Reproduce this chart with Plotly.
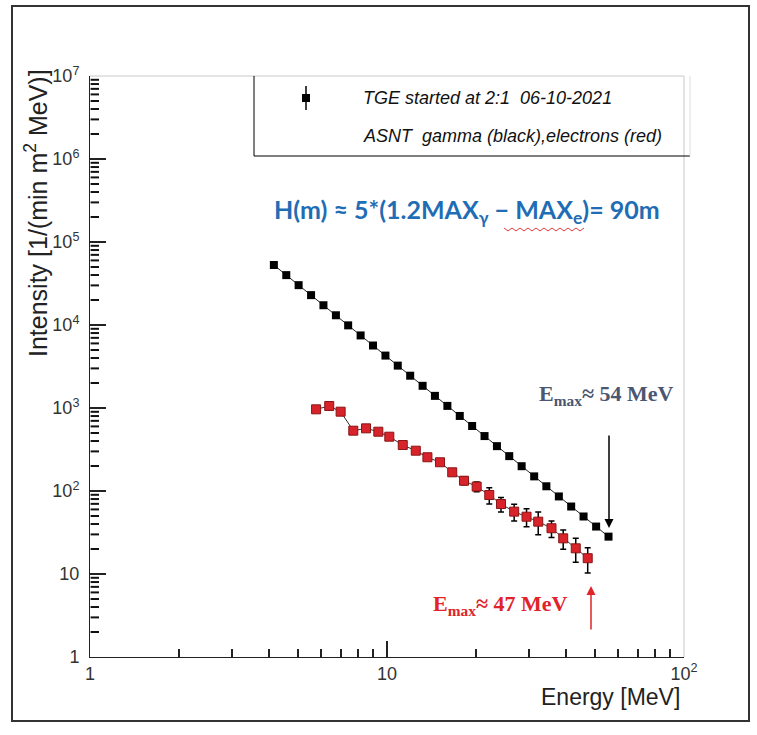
import math
import plotly.graph_objects as go

# ---- data ----
gamma_E = [4.16, 4.58, 5.04, 5.55, 6.11, 6.73, 7.40, 8.15, 8.97, 9.88, 10.87, 11.97,
           13.18, 14.5, 15.97, 17.58, 19.35, 21.3, 23.45, 25.8, 28.4, 31.3, 34.4, 37.9,
           41.7, 45.9, 50.6, 55.7]
gamma_I = [52800, 39900, 30200, 22900, 17300, 13100, 9900, 7490, 5660, 4280, 3240,
           2450, 1850, 1400, 1060, 802, 607, 459, 347, 263, 199, 150, 114, 86,
           65, 49.3, 37.3, 28.2]
gamma_err = [800, 650, 500, 400, 320, 260, 200, 160, 130, 100, 80, 65, 52, 42, 34,
             28, 22, 17, 14, 11, 9, 7, 6, 4.5, 3.5, 3, 2.5, 2.2]

elec_E = [5.77, 6.39, 6.98, 7.70, 8.50, 9.35, 10.18, 11.30, 12.50, 13.68, 15.08, 16.58,
          18.17, 20.04, 22.1, 24.2, 26.8, 29.5, 32.3, 35.8, 39.2, 43.2, 47.4]
elec_I = [964, 1057, 903, 533, 569, 518, 451, 358, 306, 255, 222, 168, 133, 113, 89.5,
          69.7, 56.4, 49.0, 42.7, 35.6, 26.9, 20.4, 15.5]
elec_err = [18, 20, 18, 14, 15, 14, 13, 12, 13, 13, 17, 14, 14, 15, 20, 14, 13, 12,
            13, 8, 7, 6.5, 5.2]

y_ticks = [1, 10, 100, 1e3, 1e4, 1e5, 1e6, 1e7]
y_ticktext = ["1", "10", "10<sup>2</sup>", "10<sup>3</sup>", "10<sup>4</sup>",
              "10<sup>5</sup>", "10<sup>6</sup>", "10<sup>7</sup>"]
x_ticks = [1, 10, 100]
x_ticktext = ["1", "10", "10<sup>2</sup>"]
minor_mult = [2, 3, 4, 5, 6, 7, 8, 9]

# ---- geometry ----
W, H = 757, 735
L, R, T, B = 90, 684, 76, 657
Y_DECADES = 7


def px(xp):
    return (xp - L) / (R - L)


def py(yp):
    return (B - yp) / (B - T)


x_minor = [m * d for d in (1, 10) for m in minor_mult]
y_minor = [m * 10 ** k for k in range(7) for m in minor_mult]

fig = go.Figure()

fig.add_trace(go.Scatter(
    x=gamma_E, y=gamma_I, mode="lines+markers",
    line=dict(color="#222222", width=1),
    marker=dict(symbol="square", size=8, color="black"),
    error_y=dict(type="data", array=gamma_err, color="black", thickness=1, width=2),
    showlegend=False))

fig.add_trace(go.Scatter(
    x=elec_E, y=elec_I, mode="lines+markers",
    line=dict(color="#333333", width=1),
    marker=dict(symbol="square", size=9, color="#d9232b",
                line=dict(color="#8a1515", width=1)),
    error_y=dict(type="data", array=elec_err, color="black", thickness=1.5, width=3),
    showlegend=False))

# empty trace so that the minor-tick x axis gets drawn
fig.add_trace(go.Scatter(x=[], y=[], xaxis="x2", yaxis="y", showlegend=False,
                         hoverinfo="skip"))

font_axis = "Liberation Sans, Arial, sans-serif"

fig.update_layout(
    xaxis=dict(type="log", range=[0, 2], tickmode="array", tickvals=x_ticks,
               ticktext=x_ticktext, showgrid=False, zeroline=False, showline=True,
               linecolor="#222222", linewidth=1, ticks="inside", ticklen=16,
               tickwidth=1.5, tickcolor="#222222",
               tickfont=dict(family=font_axis, size=18, color="#333333")),
    yaxis=dict(type="log", range=[0, Y_DECADES], tickmode="array", tickvals=y_ticks,
               ticktext=y_ticktext, showgrid=False, zeroline=False, showline=True,
               linecolor="#222222", linewidth=1, ticks="inside", ticklen=16,
               tickwidth=2, tickcolor="#222222", ticklabelstandoff=6,
               tickfont=dict(family=font_axis, size=18, color="#333333")),
    # secondary x axis only used to draw the minor ticks
    xaxis2=dict(type="log", range=[0, 2], overlaying="x", side="bottom", anchor="y",
                tickmode="array", tickvals=x_minor, showticklabels=False,
                showgrid=False, zeroline=False, showline=False, ticks="inside",
                ticklen=8, tickwidth=1.5, tickcolor="#222222"),
)

shapes = []
# y minor ticks (axis decoration)
tick_w = 9 / (R - L)
for v in y_minor:
    yy = math.log10(v) / Y_DECADES
    shapes.append(dict(type="line", xref="paper", yref="paper", x0=0.001, x1=tick_w,
                       y0=yy, y1=yy, layer="above",
                       line=dict(color="#111111", width=2)))
# outer frame
shapes.append(dict(type="rect", xref="paper", yref="paper",
                   x0=px(12), x1=px(749), y0=py(6), y1=py(721),
                   line=dict(color="#333333", width=2)))
# top/right light plot frame
shapes.append(dict(type="line", xref="paper", yref="paper", x0=0, x1=1, y0=1, y1=1,
                   line=dict(color="#c8c8c8", width=1)))
shapes.append(dict(type="line", xref="paper", yref="paper", x0=1, x1=1, y0=0, y1=1,
                   line=dict(color="#c8c8c8", width=1)))
# legend box
shapes.append(dict(type="line", xref="paper", yref="paper", x0=px(254), x1=px(254),
                   y0=py(76), y1=py(156), line=dict(color="black", width=1)))
shapes.append(dict(type="line", xref="paper", yref="paper", x0=px(254), x1=px(690),
                   y0=py(156), y1=py(156), line=dict(color="black", width=1.2)))
shapes.append(dict(type="line", xref="paper", yref="paper", x0=px(690), x1=px(690),
                   y0=py(76), y1=py(156), line=dict(color="#dddddd", width=1)))
# legend key: vertical bar + square
shapes.append(dict(type="line", xref="paper", yref="paper", x0=px(306), x1=px(306),
                   y0=py(86), y1=py(110), line=dict(color="black", width=1.5)))
shapes.append(dict(type="rect", xref="paper", yref="paper", x0=px(302), x1=px(310),
                   y0=py(94), y1=py(102), fillcolor="black", line=dict(width=0)))
# red wavy (spell-check) underline under MAX_e
wave_x = [504 + 4 * i for i in range(21)]
wave_path = "M " + " L ".join(
    f"{px(xx):.5f},{py(229 + (2 if i % 2 else -1)):.5f}" for i, xx in enumerate(wave_x))
shapes.append(dict(type="path", xref="paper", yref="paper", path=wave_path,
                   line=dict(color="#e23a3a", width=1)))
fig.update_layout(shapes=shapes)

ann = []
ann.append(dict(xref="paper", yref="paper", x=px(361), y=py(98), xanchor="left",
                yanchor="middle", showarrow=False,
                text="<i>TGE started at 2:1  06-10-2021</i>",
                font=dict(family=font_axis, size=18, color="#111111")))
ann.append(dict(xref="paper", yref="paper", x=px(361), y=py(136), xanchor="left",
                yanchor="middle", showarrow=False,
                text="<i>ASNT  gamma (black),electrons (red)</i>",
                font=dict(family=font_axis, size=18, color="#111111")))
ann.append(dict(xref="paper", yref="paper", x=px(467), y=py(211), xanchor="center",
                yanchor="middle", showarrow=False,
                text="<b>H(m) ≈ 5*(1.2MAX<sub>γ</sub> − MAX<sub>e</sub>)= 90m</b>",
                font=dict(family="Lato, Open Sans, sans-serif", size=25, color="#1f6db5")))
ann.append(dict(xref="paper", yref="paper", x=px(36), y=py(67), xanchor="center",
                yanchor="top", textangle=-90, showarrow=False,
                text="Intensity [1/(min m<sup>2</sup> MeV)]",
                font=dict(family=font_axis, size=25, color="#222222")))
ann.append(dict(xref="paper", yref="paper", x=px(682), y=py(697), xanchor="right",
                yanchor="middle", showarrow=False, text="Energy [MeV]",
                font=dict(family=font_axis, size=23, color="#222222")))
ann.append(dict(xref="paper", yref="paper", x=px(606), y=py(395), xanchor="center",
                yanchor="middle", showarrow=False,
                text="<b>E<sub>max</sub>≈ 54 MeV</b>",
                font=dict(family="Liberation Serif, Times New Roman, serif", size=22,
                          color="#4b5670")))
ann.append(dict(xref="paper", yref="paper", x=px(500), y=py(605), xanchor="center",
                yanchor="middle", showarrow=False,
                text="<b>E<sub>max</sub>≈ 47 MeV</b>",
                font=dict(family="Liberation Serif, Times New Roman, serif", size=22,
                          color="#e0242a")))
# arrows
ann.append(dict(xref="paper", yref="paper", x=px(609), y=py(528), ax=0, ay=-94,
                text="", showarrow=True, arrowhead=2, arrowsize=1.2, arrowwidth=1.5,
                arrowcolor="black"))
ann.append(dict(xref="paper", yref="paper", x=px(591), y=py(586), ax=0, ay=45,
                text="", showarrow=True, arrowhead=2, arrowsize=1.2, arrowwidth=1.5,
                arrowcolor="#e0242a"))
fig.update_layout(annotations=ann)

fig.update_layout(width=W, height=H, margin=dict(l=L, r=W - R, t=T, b=H - B),
                  paper_bgcolor="white", plot_bgcolor="white", showlegend=False)

fig.write_html("out.html")
